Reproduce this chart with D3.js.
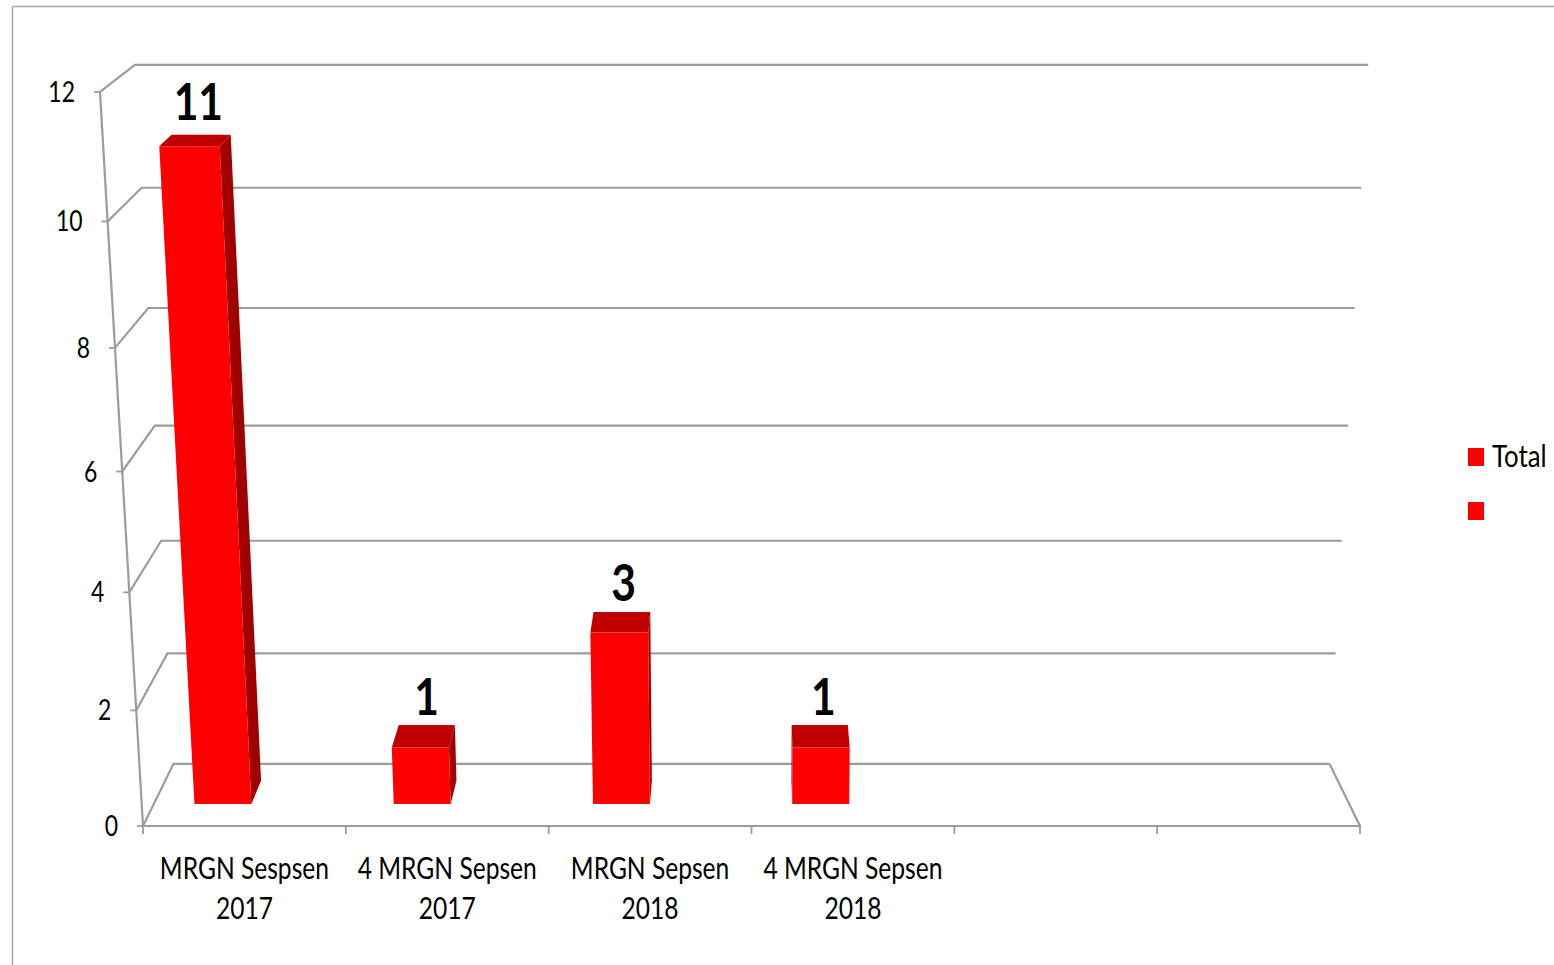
<!DOCTYPE html>
<html>
<head>
<meta charset="utf-8">
<script src="https://cdn.jsdelivr.net/npm/d3@7"></script>
<style>
  html, body { margin: 0; padding: 0; background: #ffffff; }
  svg { display: block; }
  text { font-family: Lato, "Open Sans", sans-serif; fill: #000; }
</style>
</head>
<body>
<svg id="chart" width="1554" height="965"></svg>
<script>
// ---------------- data ----------------
const categoryLabels = ["MRGN Sespsen\n2017", "4 MRGN Sepsen\n2017", "MRGN Sepsen\n2018", "4 MRGN Sepsen\n2018", "", ""];
const seriesNames = ["Total", ""];
const totalValues = [11, 1, 3, 1, null, null];
const blankValues = [null, null, null, null, null, null];
const yTicks = [0, 2, 4, 6, 8, 10, 12];
const seriesValues = [totalValues, blankValues];

// ---------------- layout / projection ----------------
const svg = d3.select("#chart");
const W = 1554, H = 965;
const floorLeft = 143, floorRight = 1360, floorY = 826;
const vanishX = 751.5;          // horizontal centre of the perspective
const kValue = -0.0055;         // perspective change per value unit
const kDepth = 0.0528;          // perspective change from front (z=0) to back (z=1)
const depthLift = -65.5;        // vertical shift of the back plane
const zFront = 0.34, zBack = 0.72;  // bar depth range

const x = d3.scaleBand().domain(d3.range(categoryLabels.length)).range([floorLeft, floorRight]).padding(0);
const xSeries = d3.scaleBand().domain(d3.range(seriesNames.length)).range([-2, x.bandwidth() - 2]).paddingInner(0).paddingOuter(0.75);
const y = d3.scaleLinear().domain([0, 12]).range([0, -685.6]);

function P(X, v, z) {
  const w = 1 + kValue * v + kDepth * z;
  return [vanishX + (X - vanishX) / w, floorY + (y(v) + depthLift * z) / w];
}
const line = d3.line();
const gridColor = "#9c9c9c";
const txtScale = 0.82;

// chart border
svg.append("path")
  .attr("d", `M12.5,${H + 5}V6.5H${W + 5}`)
  .attr("fill", "none").attr("stroke", "#a8a8a8").attr("stroke-width", 1.5);

// back wall gridlines + side wall diagonals
const g = svg.append("g");
yTicks.forEach(t => {
  g.append("path")
    .attr("d", line([P(floorLeft, t, 0), P(floorLeft, t, 1), P(floorRight, t, 1)]))
    .attr("fill", "none").attr("stroke", gridColor).attr("stroke-width", 2.2);
});
// floor right edge and front edge
g.append("path")
  .attr("d", line([P(floorLeft, 0, 0), P(floorRight, 0, 0), P(floorRight, 0, 1)]))
  .attr("fill", "none").attr("stroke", gridColor).attr("stroke-width", 2.2);
// vertical axis
g.append("path")
  .attr("d", line([P(floorLeft, 0, 0), P(floorLeft, 12, 0)]))
  .attr("fill", "none").attr("stroke", gridColor).attr("stroke-width", 2.2);

// y ticks + labels
yTicks.forEach(t => {
  const [px, py] = P(floorLeft, t, 0);
  g.append("line").attr("x1", px - 6).attr("x2", px).attr("y1", py).attr("y2", py)
    .attr("stroke", gridColor).attr("stroke-width", 1.8);
  g.append("text")
    .attr("transform", `translate(${px - 25},${py + 10}) scale(${txtScale},1)`)
    .attr("text-anchor", "end").attr("font-size", 28).text(t);
});

// category ticks
d3.range(categoryLabels.length + 1).forEach(i => {
  const X = floorLeft + i * x.step();
  const [px, py] = P(X, 0, 0);
  g.append("line").attr("x1", px).attr("x2", px).attr("y1", py).attr("y2", py + 8)
    .attr("stroke", gridColor).attr("stroke-width", 1.8);
});

// category labels
categoryLabels.forEach((lab, i) => {
  if (!lab) return;
  const cxp = P(x(i) + x.bandwidth() / 2, 0, 0)[0];
  lab.split("\n").forEach((ln, j) => {
    g.append("text")
      .attr("transform", `translate(${cxp},${floorY + 53 + j * 40}) scale(${txtScale},1)`)
      .attr("text-anchor", "middle").attr("font-size", 30).text(ln);
  });
});

// bars
const barColors = { front: "#ff0000", top: "#c00000", side: "#a00000" };
const bars = svg.append("g");
seriesValues.forEach((vals, s) => {
  vals.forEach((v, i) => {
    if (v == null) return;
    const X0 = x(i) + xSeries(s), X1 = X0 + xSeries.bandwidth();
    const poly = pts => bars.append("path").attr("d", line(pts) + "Z");
    // side face
    if (X1 < vanishX) {
      poly([P(X1, 0, zFront), P(X1, 0, zBack), P(X1, v, zBack), P(X1, v, zFront)]).attr("fill", barColors.side);
    } else if (X0 > vanishX) {
      poly([P(X0, 0, zFront), P(X0, 0, zBack), P(X0, v, zBack), P(X0, v, zFront)]).attr("fill", barColors.side);
    }
    // top face
    poly([P(X0, v, zFront), P(X1, v, zFront), P(X1, v, zBack), P(X0, v, zBack)]).attr("fill", barColors.top);
    // front face
    poly([P(X0, 0, zFront), P(X1, 0, zFront), P(X1, v, zFront), P(X0, v, zFront)]).attr("fill", barColors.front);
    // data label
    const [lx, ly] = P((X0 + X1) / 2, v, (zFront + zBack) / 2);
    bars.append("text")
      .attr("transform", `translate(${lx + 3},${ly - 21}) scale(${txtScale},1)`)
      .attr("text-anchor", "middle").attr("font-size", 52).attr("font-weight", "bold").text(v);
  });
});

// legend
const legend = svg.append("g").attr("transform", "translate(1468,448)");
seriesNames.forEach((name, s) => {
  const row = legend.append("g").attr("transform", `translate(0,${s * 54})`);
  row.append("rect").attr("width", 16).attr("height", 18).attr("fill", "#ff0000");
  row.append("text")
    .attr("transform", `translate(24,19) scale(0.86,1)`)
    .attr("font-size", 30).text(name);
});
</script>
</body>
</html>
